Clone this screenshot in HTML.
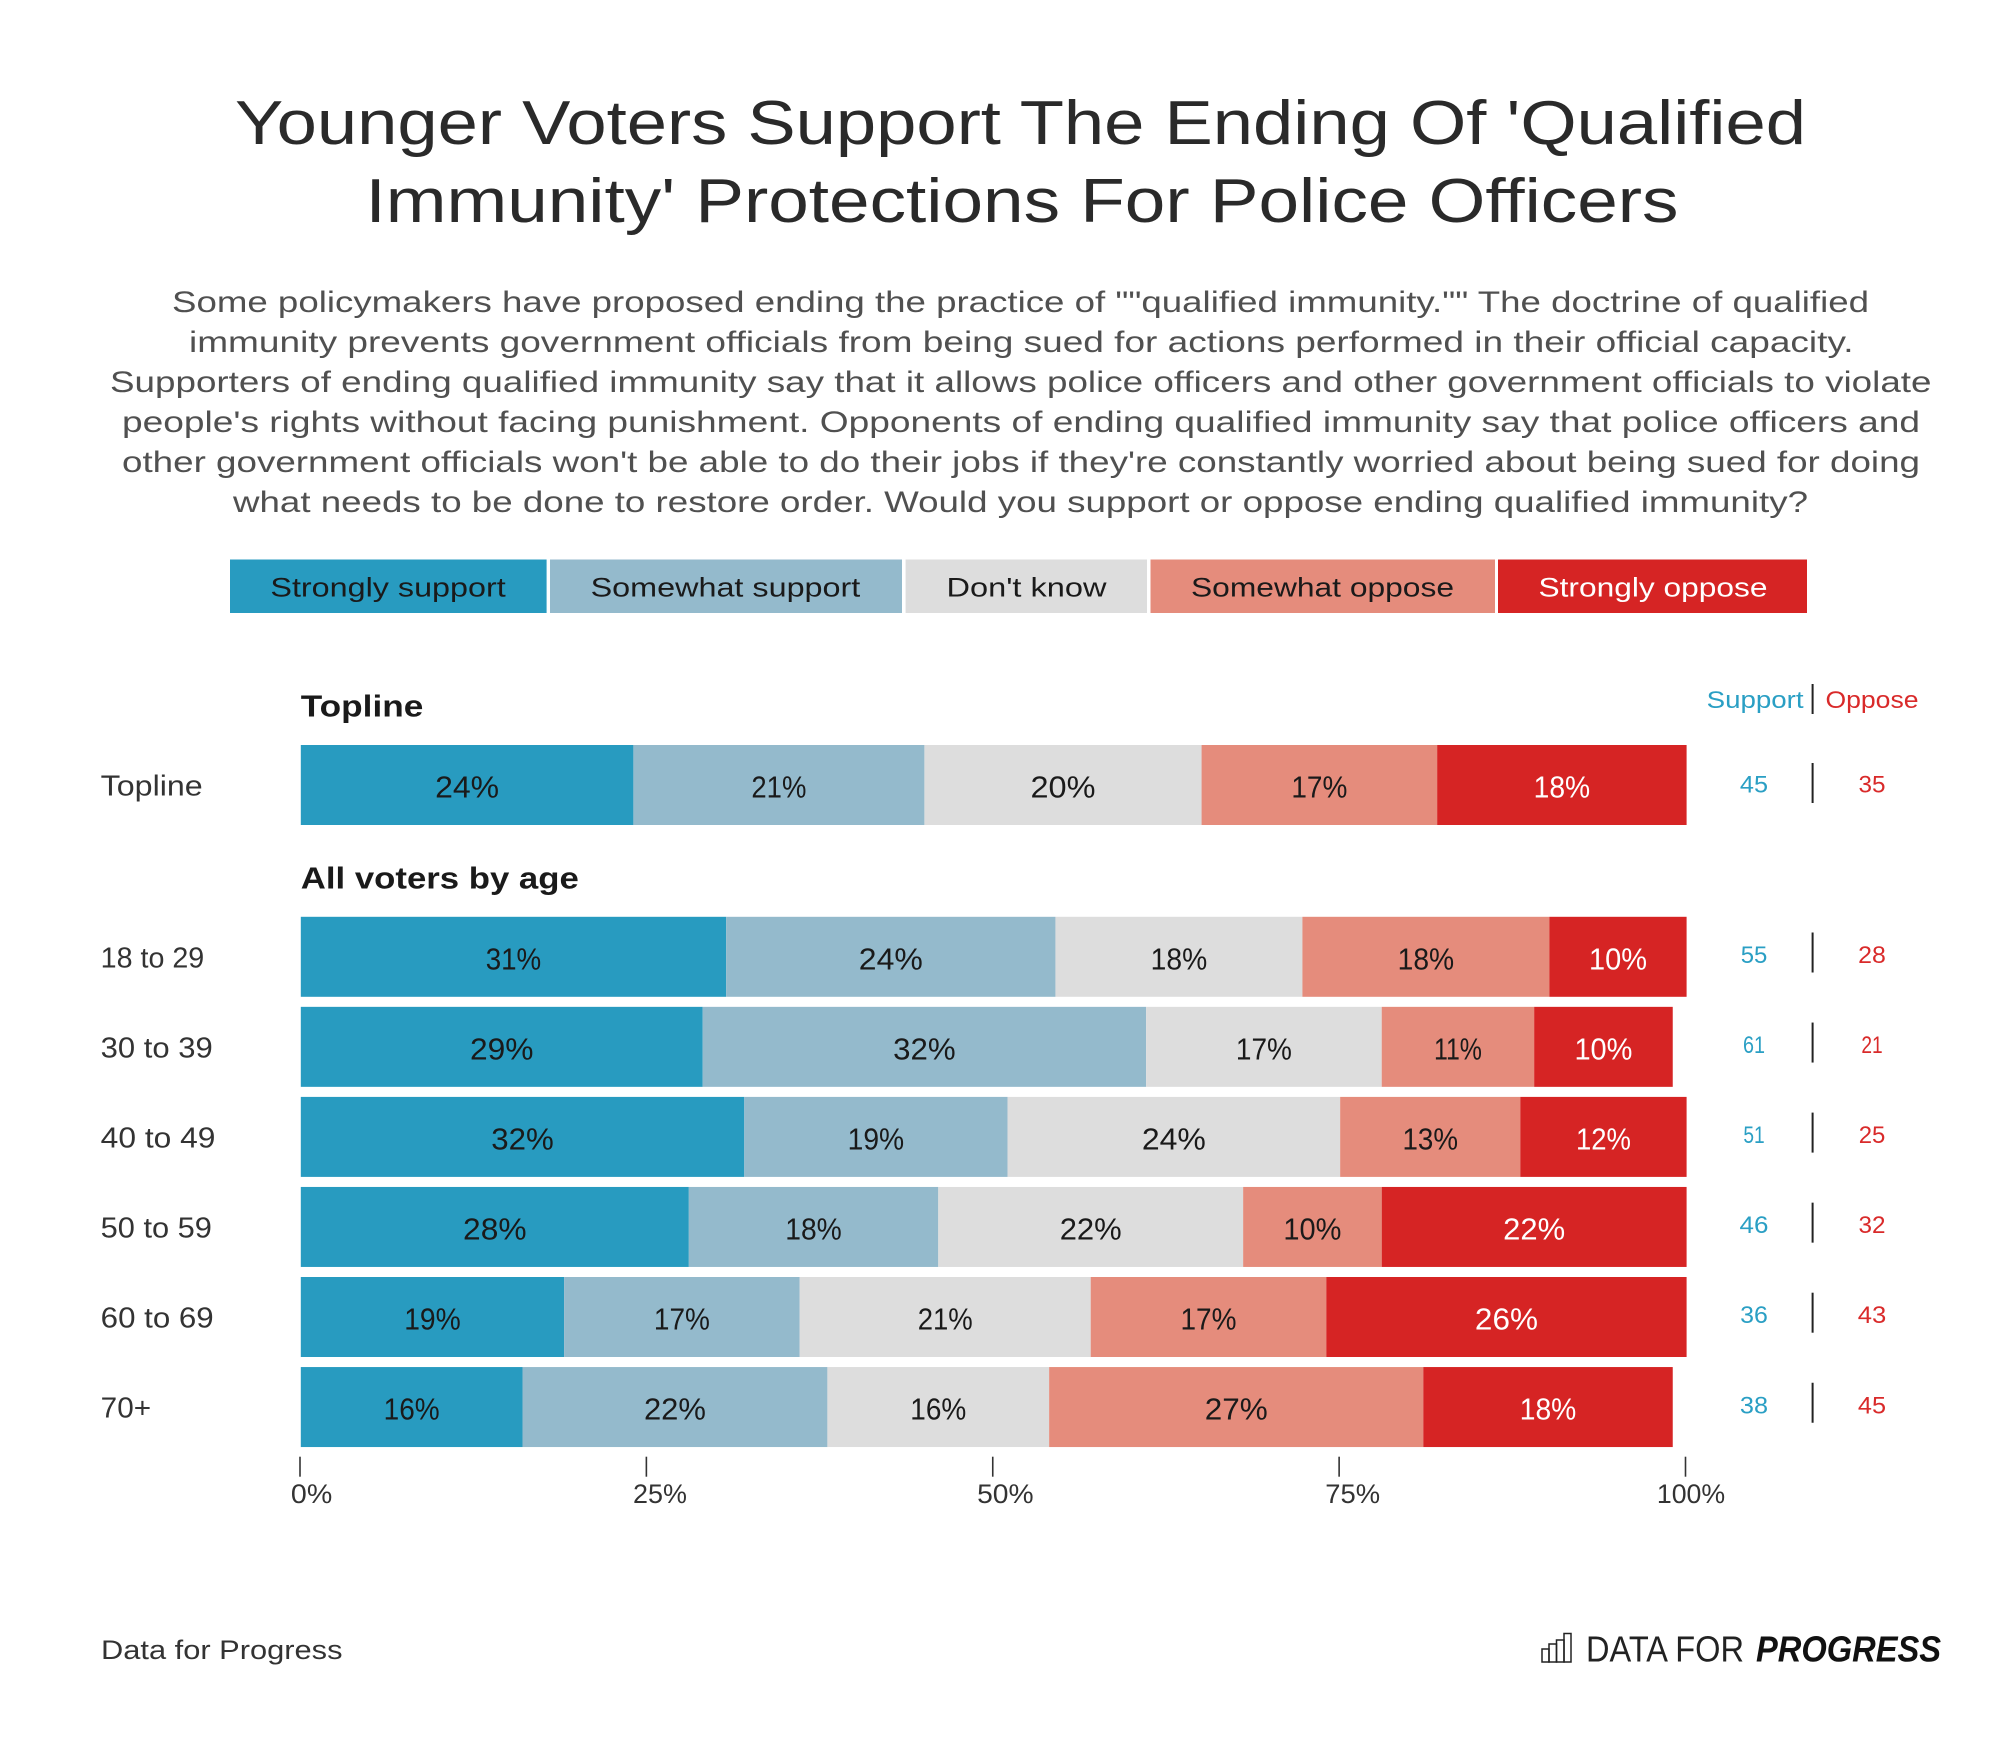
<!DOCTYPE html>
<html lang="en">
<head>
<meta charset="utf-8">
<title>Younger Voters Support The Ending Of 'Qualified Immunity' Protections For Police Officers</title>
<style>
html,body{margin:0;padding:0;background:#fff;}
svg{display:block;}
text{font-family:"Liberation Sans",sans-serif;}
</style>
</head>
<body>
<svg id="chart" xmlns="http://www.w3.org/2000/svg" width="2000" height="1748" viewBox="0 0 2000 1748">
  <rect x="0" y="0" width="2000" height="1748" fill="#ffffff"/>
  <g font-size="62" fill="#2a2a2a">
    <text x="235" y="144" textLength="1571" lengthAdjust="spacingAndGlyphs">Younger Voters Support The Ending Of 'Qualified</text>
    <text x="365.5" y="222" textLength="1313" lengthAdjust="spacingAndGlyphs">Immunity' Protections For Police Officers</text>
  </g>
  <g font-size="29.5" fill="#505050">
    <text x="172" y="312" textLength="1697" lengthAdjust="spacingAndGlyphs">Some policymakers have proposed ending the practice of &quot;&quot;qualified immunity.&quot;&quot; The doctrine of qualified</text>
    <text x="189" y="352" textLength="1664.5" lengthAdjust="spacingAndGlyphs">immunity prevents government officials from being sued for actions performed in their official capacity.</text>
    <text x="110" y="392" textLength="1821.5" lengthAdjust="spacingAndGlyphs">Supporters of ending qualified immunity say that it allows police officers and other government officials to violate</text>
    <text x="122" y="432" textLength="1798" lengthAdjust="spacingAndGlyphs">people's rights without facing punishment. Opponents of ending qualified immunity say that police officers and</text>
    <text x="122" y="472" textLength="1798" lengthAdjust="spacingAndGlyphs">other government officials won't be able to do their jobs if they're constantly worried about being sued for doing</text>
    <text x="233" y="512" textLength="1575" lengthAdjust="spacingAndGlyphs">what needs to be done to restore order. Would you support or oppose ending qualified immunity?</text>
  </g>
  <g font-size="27">
    <g>
      <rect x="230" y="559.5" width="316.6" height="53.5" fill="#289bc0"/>
      <text x="270.4" y="596.7" fill="#1a1a1a" textLength="235.3" lengthAdjust="spacingAndGlyphs">Strongly support</text>
    </g>
    <g>
      <rect x="550" y="559.5" width="352" height="53.5" fill="#94bacc"/>
      <text x="590.6" y="596.7" fill="#1a1a1a" textLength="269.7" lengthAdjust="spacingAndGlyphs">Somewhat support</text>
    </g>
    <g>
      <rect x="905.6" y="559.5" width="241.4" height="53.5" fill="#dddddd"/>
      <text x="946.5" y="596.7" fill="#1a1a1a" textLength="160" lengthAdjust="spacingAndGlyphs">Don't know</text>
    </g>
    <g>
      <rect x="1150.5" y="559.5" width="344.5" height="53.5" fill="#e58c7c"/>
      <text x="1191" y="596.7" fill="#1a1a1a" textLength="263" lengthAdjust="spacingAndGlyphs">Somewhat oppose</text>
    </g>
    <g>
      <rect x="1498" y="559.5" width="309" height="53.5" fill="#d62424"/>
      <text x="1538.5" y="596.7" fill="#ffffff" textLength="229" lengthAdjust="spacingAndGlyphs">Strongly oppose</text>
    </g>
  </g>
  <text x="300.8" y="716.5" font-size="31" font-weight="700" fill="#1a1a1a" textLength="122.5" lengthAdjust="spacingAndGlyphs">Topline</text>
  <text x="300.8" y="888.5" font-size="31" font-weight="700" fill="#1a1a1a" textLength="278" lengthAdjust="spacingAndGlyphs">All voters by age</text>
  <text x="1706.6" y="708" font-size="24" fill="#2a9fc4" textLength="97" lengthAdjust="spacingAndGlyphs">Support</text>
  <line x1="1812.6" y1="684" x2="1812.6" y2="714" stroke="#222222" stroke-width="2"/>
  <text x="1825.5" y="708" font-size="24" fill="#d92a2a" textLength="93" lengthAdjust="spacingAndGlyphs">Oppose</text>
  <g id="marks"></g>
  <g id="axis"></g>
  <text x="101" y="1659" font-size="27" fill="#333333" textLength="241.5" lengthAdjust="spacingAndGlyphs">Data for Progress</text>
  <g>
    <g fill="none" stroke="#222222" stroke-width="1.5">
      <rect x="1542" y="1649" width="7" height="13"/>
      <rect x="1549" y="1644" width="7.5" height="18"/>
      <rect x="1556.5" y="1640" width="7.5" height="22"/>
      <rect x="1564" y="1633.5" width="7" height="28.5"/>
    </g>
    <text x="1586" y="1661.7" font-size="36" fill="#222222" textLength="158" lengthAdjust="spacingAndGlyphs">DATA FOR</text>
    <text x="1756" y="1661.7" font-size="36" font-weight="700" font-style="italic" fill="#111111" textLength="185" lengthAdjust="spacingAndGlyphs">PROGRESS</text>
  </g>
</svg>
<script>
const categories = ['Topline', '18 to 29', '30 to 39', '40 to 49', '50 to 59', '60 to 69', '70+'];
const stronglySupport = [24, 31, 29, 32, 28, 19, 16];
const somewhatSupport = [21, 24, 32, 19, 18, 17, 22];
const dontKnow = [20, 18, 17, 24, 22, 21, 16];
const somewhatOppose = [17, 18, 11, 13, 10, 17, 27];
const stronglyOppose = [18, 10, 10, 12, 22, 26, 18];
const supportTotals = [45, 55, 61, 51, 46, 36, 38];
const opposeTotals = [35, 28, 21, 25, 32, 43, 45];
const tickValues = [0, 25, 50, 75, 100];
const tickLabels = ['0%', '25%', '50%', '75%', '100%'];

const series = [stronglySupport, somewhatSupport, dontKnow, somewhatOppose, stronglyOppose];
const seriesKeys = ['strongly-support', 'somewhat-support', 'dont-know', 'somewhat-oppose', 'strongly-oppose'];
const seriesFill = ['#289bc0', '#94bacc', '#dddddd', '#e58c7c', '#d62424'];
const seriesText = ['#1a1a1a', '#1a1a1a', '#1a1a1a', '#1a1a1a', '#ffffff'];

const NS = 'http://www.w3.org/2000/svg';
const marks = document.getElementById('marks');
const axis = document.getElementById('axis');

function x(v) { return 300.8 + v * 13.858; }
function tickX(v) { return 300 + v * 13.855; }
function rowTop(i) { return i === 0 ? 745 : 916.8 + (i - 1) * 90.05; }
const BAR_H = 80;

const glyphW = {'0':20.5,'1':10.5,'2':17.5,'3':18,'4':19.5,'5':17.5,'6':18.5,'7':18.5,'8':19,'9':19,'%':27,' ':10,'t':12,'o':17,'+':17,'-':12,'.':8};
function labelW(s, ratio) {
  let w = 0;
  for (const c of String(s)) w += (glyphW[c] === undefined ? 17 : glyphW[c]);
  return w * ratio;
}
function make(tag, attrs, parent, content) {
  const el = document.createElementNS(NS, tag);
  for (const k in attrs) el.setAttribute(k, attrs[k]);
  if (content !== undefined) el.textContent = content;
  parent.appendChild(el);
  return el;
}
function fit(el, w) {
  el.setAttribute('textLength', w.toFixed(1));
  el.setAttribute('lengthAdjust', 'spacingAndGlyphs');
}

categories.forEach(function (cat, i) {
  const top = rowTop(i);
  const slug = cat.toLowerCase().replace(/[^a-z0-9]+/g, '-').replace(/-$/, '');

  const row = make('g', {}, marks);
  
  

  const catLabel = make('text', {x: 100.7, y: top + 50.6, 'font-size': 28.5, fill: '#333333'}, row, cat);
  
  
  fit(catLabel, cat === 'Topline' ? 102 : labelW(cat, 0.9));

  const total = series.reduce(function (a, s) { return a + s[i]; }, 0);
  const norm = Math.min(1, 100 / total);
  let cum = 0;
  series.forEach(function (s, j) {
    const v = s[i];
    const x0 = x(cum * norm);
    const x1 = x((cum + v) * norm);
    const bar = make('rect', {x: x0, y: top, width: x1 - x0, height: BAR_H, fill: seriesFill[j]}, row);
    
    

    const str = v + '%';
    const t = make('text', {x: (x0 + x1) / 2, y: top + 52.5, 'font-size': 31, fill: seriesText[j], 'text-anchor': 'middle'}, row, str);
    
    
    fit(t, labelW(str, 1));
    cum += v;
  });

  const valueY = top + (i === 0 ? 47.7 : 46.2);
  const sup = make('text', {x: 1754, y: valueY, 'font-size': 24, fill: '#2a9fc4', 'text-anchor': 'middle'}, row, supportTotals[i]);
  
  
  fit(sup, labelW(supportTotals[i], 0.76));

  const sepTop = top + (i === 0 ? 18 : 15.7);
  const sep = make('line', {x1: 1812.6, x2: 1812.6, y1: sepTop, y2: sepTop + 40, stroke: '#222222', 'stroke-width': 2}, row);
  
  

  const opp = make('text', {x: 1872, y: valueY, 'font-size': 24, fill: '#d92a2a', 'text-anchor': 'middle'}, row, opposeTotals[i]);
  
  
  fit(opp, labelW(opposeTotals[i], 0.76));
});

tickValues.forEach(function (v, i) {
  const tx = tickX(v);
  const tick = make('line', {x1: tx, x2: tx, y1: 1456.7, y2: 1476.7, stroke: '#333333', 'stroke-width': 1.6}, axis);
  
  

  const nudge = v === 100 ? 5.5 : (v === 0 ? 11.6 : (v === 50 ? 12.6 : 13.6));
  const lab = make('text', {x: tx + nudge, y: 1503, 'font-size': 27, fill: '#333333', 'text-anchor': 'middle'}, axis, tickLabels[i]);
  
  
  fit(lab, labelW(tickLabels[i], 0.87));
});
</script>
</body>
</html>
